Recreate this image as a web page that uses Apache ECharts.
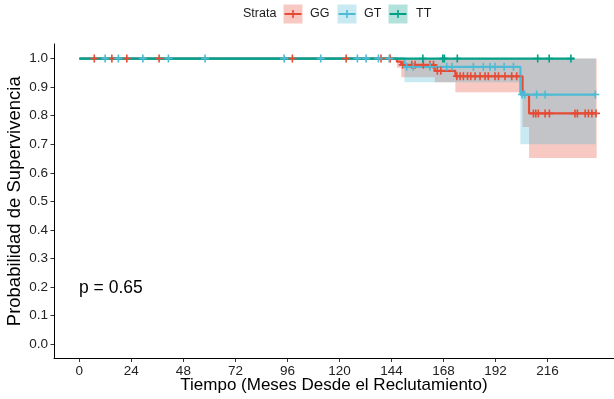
<!DOCTYPE html>
<html>
<head>
<meta charset="utf-8">
<script src="https://cdn.jsdelivr.net/npm/echarts@6/dist/echarts.min.js"></script>
<style>
  html, body { margin: 0; padding: 0; background: #ffffff; }
  #chart { width: 614px; height: 399px; }
</style>
</head>
<body>
<div id="chart"></div>
<script>
// Kaplan-Meier survival by genotype (GG, GT, TT)
const strata = ['GG', 'GT', 'TT'];
const colors = { GG: '#E64B35', GT: '#4DBBD5', TT: '#00A087' };

// Step curves: [time (months), survival after that time]
const ggCurve = [[0, 1], [146.5, 0.989], [148.5, 0.978], [164, 0.957], [173.5, 0.938], [204.5, 0.873], [207.5, 0.808], [238.7, 0.808]];
const gtCurve = [[0, 1], [150, 0.971], [203.5, 0.874], [238.3, 0.874]];
const ttCurve = [[0, 1], [228.3, 1]];

// Censoring times
const ggCensor = [6.9, 15.0, 21.9, 36.8, 98.3, 123.1, 139.2, 143.4, 149.2, 153.4, 154.9, 158.7, 161.8, 163.4, 165.2, 166.8, 174.2, 175.7, 177.2, 179.1, 180.6, 182.6, 184.9, 187.2, 188.7, 191.8, 193.4, 196.4, 199.5, 201.8, 209.5, 210.6, 211.8, 214.9, 216.9, 228.7, 229.8, 233.4, 234.9, 236.5, 238.4];
const gtCensor = [11.9, 18.0, 29.3, 41.1, 58.0, 94.5, 111.4, 128.3, 132.3, 138.0, 143.0, 151.0, 154.1, 161.8, 169.5, 171.9, 181.8, 186.4, 189.5, 191.8, 196.0, 200.3, 204.3, 205.5, 211.0, 214.9, 238.1];
const ttCensor = [158.5, 167.7, 168.4, 174.4, 211.5, 216.8, 226.8];

// 95% confidence bands: interval start times, lower and upper bounds per interval
const ggBandTime = [146.5, 148.5, 164, 173.5, 204.5, 207.5, 238.7];
const ggBandLow = [0.968, 0.935, 0.917, 0.882, 0.76, 0.652];
const ggBandHigh = [1, 1, 1, 1, 1, 1];
const gtBandTime = [150, 203.5, 238.3];
const gtBandLow = [0.917, 0.70];
const gtBandHigh = [1, 1];

// Axis ticks
const xTicks = [0, 24, 48, 72, 96, 120, 144, 168, 192, 216];
const yTicks = [0, 0.1, 0.2, 0.3, 0.4, 0.5, 0.6, 0.7, 0.8, 0.9, 1.0];

const pValueText = 'p = 0.65';

function survivalAt(curve, t) {
  let s = curve[0][1];
  for (const [ti, si] of curve) { if (ti <= t) s = si; }
  return s;
}

function bandPolygon(times, low, high) {
  const upper = [], lower = [];
  for (let i = 0; i < low.length; i++) {
    upper.push([times[i], high[i]], [times[i + 1], high[i]]);
  }
  for (let i = low.length - 1; i >= 0; i--) {
    lower.push([times[i + 1], low[i]], [times[i], low[i]]);
  }
  return upper.concat(lower);
}

const plusPath = 'path://M-1.6,-8H1.6V-1.6H8V1.6H1.6V8H-1.6V1.6H-8V-1.6H-1.6Z';
const font = '"Liberation Sans", Arial, Helvetica, sans-serif';

function bandSeries(name, pts) {
  return {
    type: 'custom',
    name: name + ' band',
    silent: true,
    z: 1,
    data: [[0, 0]],
    renderItem: function (params, api) {
      return {
        type: 'polygon',
        shape: { points: pts.map(p => api.coord(p)) },
        style: { fill: colors[name], opacity: 0.3 }
      };
    }
  };
}

function curveSeries(name, curve) {
  return {
    type: 'line', name: name, step: 'end', data: curve, showSymbol: false, z: 3,
    lineStyle: { color: colors[name], width: 2.2 }, silent: true
  };
}

function censorSeries(name, times, curve) {
  return {
    type: 'scatter', name: name + ' censor', z: 4, silent: true,
    data: times.map(t => [t, survivalAt(curve, t)]),
    symbol: plusPath, symbolSize: 8,
    itemStyle: { color: colors[name], opacity: 1 }
  };
}

const chart = echarts.init(document.getElementById('chart'), null, { renderer: 'canvas' });

const legendGraphics = [];
legendGraphics.push({
  type: 'text', left: 243, top: 7,
  style: { text: 'Strata', font: '12.5px ' + font, fill: '#1a1a1a' }
});
const keyX = { GG: 283.5, GT: 337.5, TT: 388.5 };
const labelX = { GG: 310, GT: 364, TT: 416 };
strata.forEach(s => {
  const x = keyX[s];
  legendGraphics.push({ type: 'rect', shape: { x: x, y: 4.5, width: 19, height: 19 }, style: { fill: colors[s], opacity: 0.3 } });
  legendGraphics.push({ type: 'line', shape: { x1: x + 1, y1: 14, x2: x + 18, y2: 14 }, style: { stroke: colors[s], lineWidth: 2 } });
  legendGraphics.push({ type: 'line', shape: { x1: x + 9.5, y1: 10, x2: x + 9.5, y2: 18 }, style: { stroke: colors[s], lineWidth: 1.6 } });
  legendGraphics.push({ type: 'text', left: labelX[s], top: 7, style: { text: s, font: '12.5px ' + font, fill: '#1a1a1a' } });
});
legendGraphics.push({
  type: 'text', left: 79, top: 279,
  style: { text: pValueText, font: '17.5px ' + font, fill: '#000' }
});

chart.setOption({
  animation: false,
  backgroundColor: '#ffffff',
  grid: { left: 54, top: 44, right: 0, bottom: 40.5, containLabel: false, outerBoundsMode: 'none' },
  xAxis: {
    type: 'value', min: -11.7, max: 246.7,
    name: 'Tiempo (Meses Desde el Reclutamiento)',
    nameLocation: 'middle', nameGap: 18, nameMoveOverlap: false,
    nameTextStyle: { fontFamily: font, fontSize: 17, color: '#000' },
    axisLine: { show: true, onZero: false, lineStyle: { color: '#000', width: 1 } },
    axisTick: { show: true, length: 3.5, customValues: xTicks, lineStyle: { color: '#333', width: 1 } },
    axisLabel: { customValues: xTicks, margin: 6, fontFamily: font, fontSize: 13.5, color: '#222', formatter: v => String(v) },
    splitLine: { show: false }
  },
  yAxis: {
    type: 'value', min: -0.05, max: 1.051,
    name: 'Probabilidad de Supervivencia',
    nameLocation: 'middle', nameGap: 30, nameRotate: 90, nameMoveOverlap: false,
    nameTextStyle: { fontFamily: font, fontSize: 18.5, color: '#000' },
    axisLine: { show: true, onZero: false, lineStyle: { color: '#000', width: 1 } },
    axisTick: { show: true, length: 3.5, customValues: yTicks, lineStyle: { color: '#333', width: 1 } },
    axisLabel: { customValues: yTicks, margin: 6, fontFamily: font, fontSize: 13.5, color: '#222', formatter: v => v.toFixed(1) },
    splitLine: { show: false }
  },
  graphic: legendGraphics,
  series: [
    bandSeries('GG', bandPolygon(ggBandTime, ggBandLow, ggBandHigh)),
    bandSeries('GT', bandPolygon(gtBandTime, gtBandLow, gtBandHigh)),
    curveSeries('GG', ggCurve),
    curveSeries('GT', gtCurve),
    curveSeries('TT', ttCurve),
    censorSeries('GG', ggCensor, ggCurve),
    censorSeries('GT', gtCensor, gtCurve),
    censorSeries('TT', ttCensor, ttCurve)
  ]
});
</script>
</body>
</html>
